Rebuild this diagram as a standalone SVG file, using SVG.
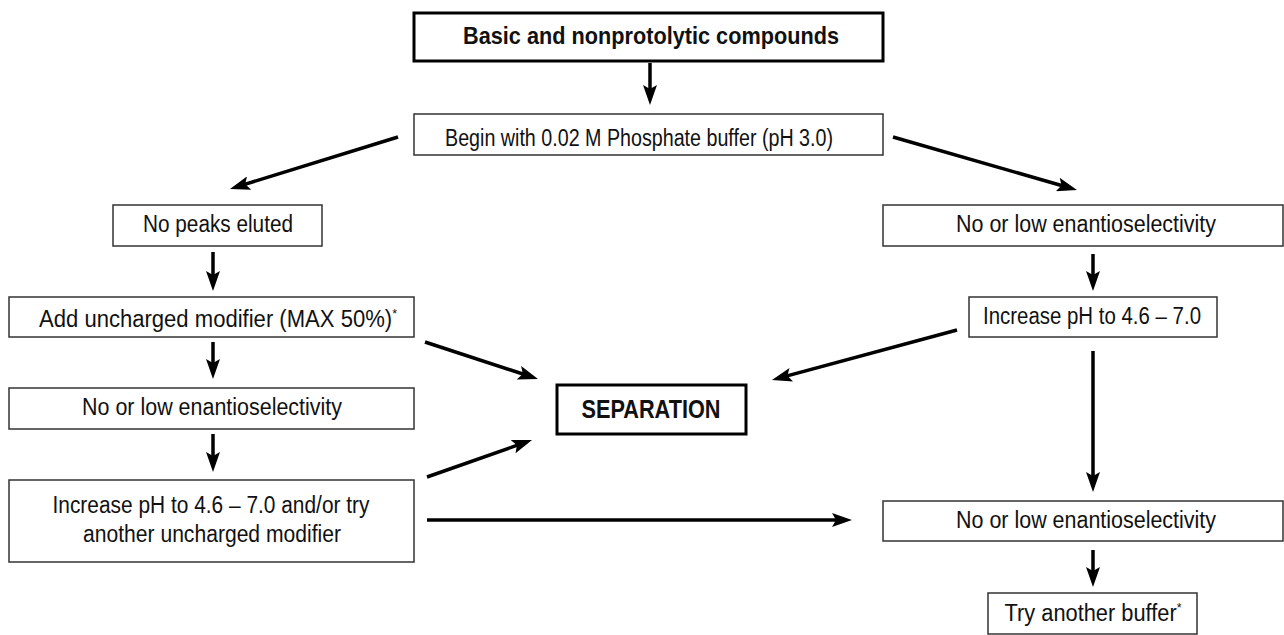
<svg xmlns="http://www.w3.org/2000/svg" width="1284" height="635" viewBox="0 0 1284 635">
<style>
  .box { fill: #fff; stroke: #333; stroke-width: 1.5; }
  .bold { fill: #fff; stroke: #000; stroke-width: 3; }
  text { font-family: "Liberation Sans Narrow", "Liberation Sans", Arial, sans-serif; font-size: 23px; fill: #111; text-anchor: middle; }
  .tb { font-weight: bold; font-size: 24px; }
  .tsep { font-weight: bold; font-size: 26px; }
  .sup { font-size: 13px; }
  .conn line { stroke: #000; stroke-width: 3.5; marker-end: url(#ah); }
</style>
<defs>
  <marker id="ah" markerUnits="userSpaceOnUse" markerWidth="22" markerHeight="14" viewBox="0 0 22 14" refX="12" refY="7" orient="auto">
    <path d="M0,0 L20,7 L0,14 L4,7 z" fill="#000"/>
  </marker>
</defs>
<rect width="1284" height="635" fill="#fff"/>
<g id="n-title"><rect class="bold" x="414" y="13" width="469" height="48"/><text class="tb" x="651" y="44" textLength="376" lengthAdjust="spacingAndGlyphs">Basic and nonprotolytic compounds</text></g>
<g id="n-begin"><rect class="box" x="414" y="114" width="469" height="41"/><text x="639" y="146" textLength="388" lengthAdjust="spacingAndGlyphs">Begin with 0.02 M Phosphate buffer (pH 3.0)</text></g>
<g id="n-nopeaks"><rect class="box" x="113" y="205" width="209" height="41"/><text x="218" y="232" textLength="150" lengthAdjust="spacingAndGlyphs">No peaks eluted</text></g>
<g id="n-add"><rect class="box" x="9" y="297" width="405" height="40"/><text x="218" y="327" textLength="358" lengthAdjust="spacingAndGlyphs">Add uncharged modifier (MAX 50%)<tspan class="sup" dy="-9">*</tspan></text></g>
<g id="n-nolow-left"><rect class="box" x="9" y="388" width="405" height="41"/><text x="212" y="415" textLength="260" lengthAdjust="spacingAndGlyphs">No or low enantioselectivity</text></g>
<g id="n-increase-left"><rect class="box" x="9" y="480" width="405" height="82"/><text x="211" y="513" textLength="317" lengthAdjust="spacingAndGlyphs">Increase pH to 4.6 – 7.0 and/or try</text><text x="212" y="542" textLength="258" lengthAdjust="spacingAndGlyphs">another uncharged modifier</text></g>
<g id="n-separation"><rect class="bold" x="557" y="385" width="189" height="49"/><text class="tsep" x="651" y="418" textLength="139" lengthAdjust="spacingAndGlyphs">SEPARATION</text></g>
<g id="n-nolow-right"><rect class="box" x="883" y="205" width="400" height="41"/><text x="1086" y="232" textLength="260" lengthAdjust="spacingAndGlyphs">No or low enantioselectivity</text></g>
<g id="n-increase-right"><rect class="box" x="969" y="297" width="248" height="40"/><text x="1092" y="324" textLength="218" lengthAdjust="spacingAndGlyphs">Increase pH to 4.6 – 7.0</text></g>
<g id="n-nolow-bottom"><rect class="box" x="883" y="501" width="400" height="40"/><text x="1086" y="528" textLength="260" lengthAdjust="spacingAndGlyphs">No or low enantioselectivity</text></g>
<g id="n-try"><rect class="box" x="988" y="593" width="209" height="41"/><text x="1093" y="621" textLength="177" lengthAdjust="spacingAndGlyphs">Try another buffer<tspan class="sup" dy="-9">*</tspan></text></g>
<g id="connectors" class="conn">
  <line x1="650" y1="63" x2="650" y2="97"/>
  <line x1="398" y1="137" x2="237.6" y2="186.6"/>
  <line x1="893" y1="137" x2="1069.3" y2="187.8"/>
  <line x1="213" y1="252" x2="213" y2="283"/>
  <line x1="213" y1="342" x2="213" y2="371"/>
  <line x1="213" y1="434" x2="213" y2="464"/>
  <line x1="425" y1="342" x2="530.4" y2="376.5"/>
  <line x1="427" y1="477" x2="524.5" y2="442.7"/>
  <line x1="957" y1="330" x2="779.7" y2="377.9"/>
  <line x1="1093" y1="254" x2="1093" y2="283"/>
  <line x1="1093" y1="351" x2="1093" y2="484"/>
  <line x1="427" y1="520" x2="844" y2="520"/>
  <line x1="1093" y1="550" x2="1093" y2="579"/>
</g>
</svg>
